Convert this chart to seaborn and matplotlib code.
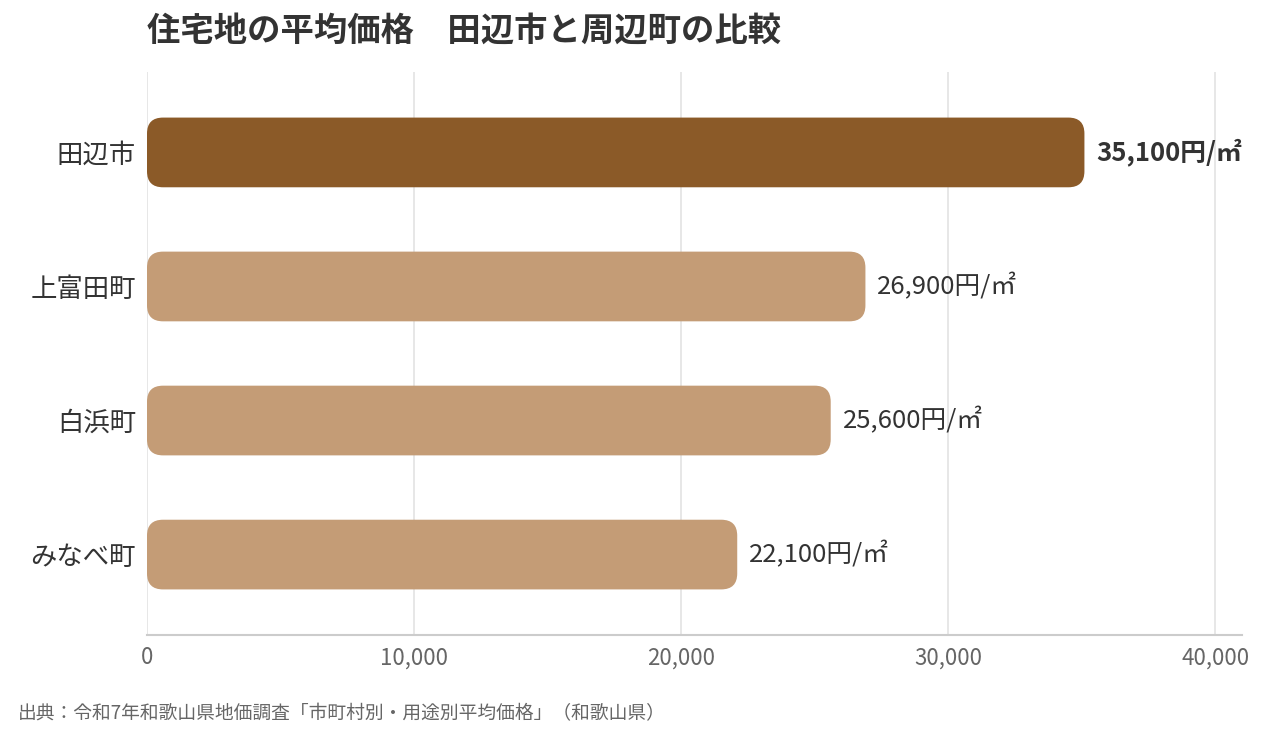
import matplotlib
matplotlib.use("Agg")
import matplotlib.pyplot as plt
from matplotlib.patches import FancyBboxPatch
import seaborn as sns
import pandas as pd

# data
towns = ["田辺市", "上富田町", "白浜町", "みなべ町"]
prices = [35100, 26900, 25600, 22100]
bar_colors = ["#8B5A28", "#C49C76", "#C49C76", "#C49C76"]
xticks = [0, 10000, 20000, 30000, 40000]

title = "住宅地の平均価格　田辺市と周辺町の比較"
source = "出典：令和7年和歌山県地価調査「市町村別・用途別平均価格」（和歌山県）"

sns.set_theme(style="white")
plt.rcParams['font.family'] = ['Noto Sans CJK JP', 'DejaVu Sans']

df = pd.DataFrame({"town": towns, "price": prices})

fig = plt.figure(figsize=(12.64, 7.41), dpi=100)
ax = fig.add_axes([147 / 1264, 1 - 635 / 741, (1242 - 147) / 1264, (635 - 72) / 741])

sns.barplot(data=df, x="price", y="town", hue="town", palette=bar_colors,
            saturation=1, width=0.52, legend=False, ax=ax)

ax.set_xlim(0, 41000)
ax.set_ylim(3.6, -0.6)

# swap plain bars for rounded ones
x_per_px = 41000 / (ax.get_position().width * 1264)
y_per_px = 4.2 / (ax.get_position().height * 741)
radius_px = 16
for p in list(ax.patches):
    x0, y0 = p.get_x(), p.get_y()
    w, h = p.get_width(), p.get_height()
    fc = p.get_facecolor()
    p.remove()
    rb = FancyBboxPatch((x0, y0), w, h,
                        boxstyle=f"round,pad=0,rounding_size={radius_px * x_per_px}",
                        mutation_aspect=y_per_px / x_per_px,
                        facecolor=fc, edgecolor="none", zorder=3)
    ax.add_patch(rb)

for i, v in enumerate(prices):
    ax.text(v + 450, i, f"{v:,}円/㎡", va="center", ha="left",
            fontsize=18.5, color="#333333",
            fontweight="bold" if i == 0 else "normal")

ax.set_xticks(xticks)
ax.set_xticklabels([f"{t:,}" for t in xticks], fontsize=16, color="#666666")
ax.tick_params(axis="x", length=0, pad=8)
ax.tick_params(axis="y", length=0, pad=8, labelsize=19, labelcolor="#333333")
ax.set_xlabel("")
ax.set_ylabel("")
ax.grid(axis="x", color="#e3e3e3", linewidth=1.2, zorder=0)
ax.set_axisbelow(True)
for s in ["top", "right", "left"]:
    ax.spines[s].set_visible(False)
ax.spines["bottom"].set_color("#cccccc")
ax.spines["bottom"].set_linewidth(1.5)

fig.text(147 / 1264, 1 - 31 / 741, title, fontsize=24, fontweight="bold",
         color="#333333", ha="left", va="center")
fig.text(18 / 1264, 1 - 714 / 741, source, fontsize=13.5, color="#666666",
         ha="left", va="center")

fig.savefig("out.png", dpi=100)
